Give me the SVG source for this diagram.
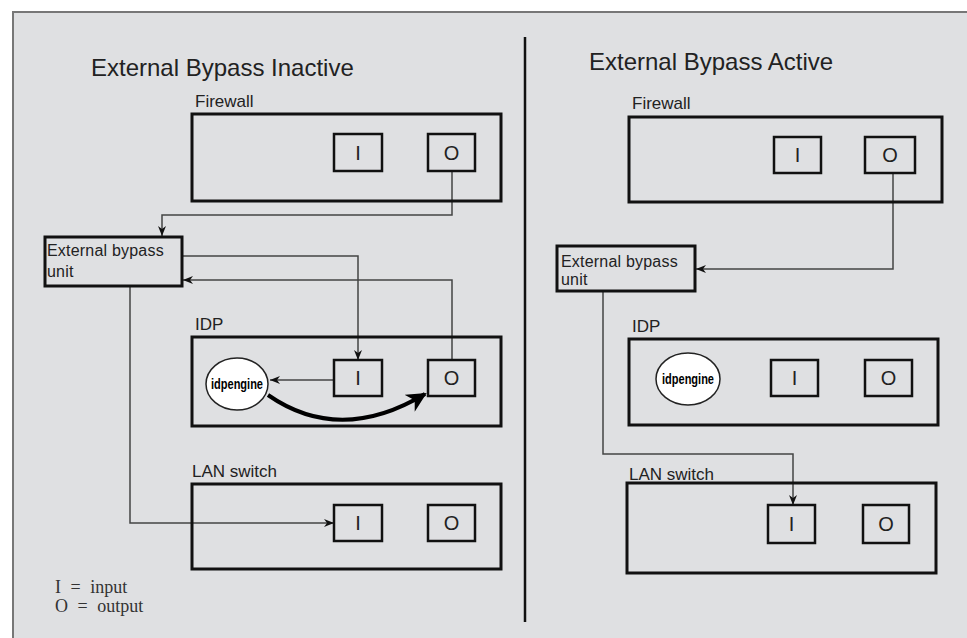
<svg xmlns="http://www.w3.org/2000/svg" width="967" height="638" viewBox="0 0 967 638">
<style>
.box{fill:none;stroke:#111;stroke-width:3}
.port{fill:none;stroke:#111;stroke-width:2.5}
.eng{fill:#fff;stroke:#222;stroke-width:1.5}
.wire{fill:none;stroke:#444;stroke-width:1.5}
.t{font-family:"Liberation Sans",Arial,sans-serif;fill:#222}
.title{font-size:24px}
.lbl{font-size:17px}
.pl{font-size:20px;text-anchor:middle}
.eb{font-size:16px;letter-spacing:0.2px}
.engt{font-family:"Liberation Sans",Arial,sans-serif;font-size:15px;font-weight:bold;fill:#000;text-anchor:middle}
.leg{font-family:"Liberation Serif","Times New Roman",serif;font-size:18px;fill:#333;word-spacing:5px}
</style>
<defs>
<marker id="ah" viewBox="0 0 10 10" refX="10" refY="5" markerWidth="10" markerHeight="10" markerUnits="userSpaceOnUse" orient="auto">
<path d="M0,1 L10,5 L0,9 L3,5 Z" fill="#111"/>
</marker>
<marker id="ahb" viewBox="0 0 10 10" refX="9" refY="5" markerWidth="5" markerHeight="5" orient="auto">
<path d="M0,0 L10,5 L0,10 L3,5 Z" fill="#000"/>
</marker>
</defs>
<rect x="0" y="0" width="967" height="638" fill="#fff"/>
<rect x="13" y="12" width="960" height="640" fill="#dfe0e2" stroke="#777" stroke-width="2"/>
<line x1="525" y1="37" x2="525" y2="622" stroke="#111" stroke-width="2.5"/>

<text class="t title" x="91" y="76">External Bypass Inactive</text>
<text class="t title" x="589" y="70">External Bypass Active</text>

<g id="connectors">
<polyline class="wire" points="452,171 452,215 162,215 162,236" marker-end="url(#ah)"/>
<polyline class="wire" points="182,256 358,256 358,360" marker-end="url(#ah)"/>
<polyline class="wire" points="452,360 452,280 183,280" marker-end="url(#ah)"/>
<polyline class="wire" points="130,286 130,523 334,523" marker-end="url(#ah)"/>
<line class="wire" x1="334" y1="380" x2="270" y2="380" marker-end="url(#ah)"/>
<path d="M268,395 Q340,445 425,394" fill="none" stroke="#000" stroke-width="4" marker-end="url(#ahb)"/>
<polyline class="wire" points="893,173 893,269 696,269" marker-end="url(#ah)"/>
<polyline class="wire" points="603,291 603,454 793,454 793,505" marker-end="url(#ah)"/>
</g>

<g id="fw-left">
<text class="t lbl" x="195" y="107">Firewall</text>
<rect class="box" x="192" y="114" width="309" height="87"/>
<rect class="port" x="334" y="134" width="48" height="37"/>
<text class="t pl" x="358" y="160">I</text>
<rect class="port" x="428" y="134" width="47" height="37"/>
<text class="t pl" x="451.5" y="160">O</text>
</g>
<g id="ebu-left">
<rect class="box" x="45" y="237" width="137" height="49"/>
<text class="t eb" x="47" y="256">External bypass</text>
<text class="t eb" x="47" y="277">unit</text>
</g>
<g id="idp-left">
<text class="t lbl" x="195" y="330">IDP</text>
<rect class="box" x="192" y="337" width="309" height="89"/>
<ellipse class="eng" cx="237" cy="384" rx="31" ry="26"/>
<text class="engt" x="237" y="389" textLength="52" lengthAdjust="spacingAndGlyphs">idpengine</text>
<rect class="port" x="334" y="360" width="48" height="36"/>
<text class="t pl" x="358" y="385">I</text>
<rect class="port" x="428" y="360" width="47" height="36"/>
<text class="t pl" x="451.5" y="385">O</text>
</g>
<g id="lan-left">
<text class="t lbl" x="192" y="477">LAN switch</text>
<rect class="box" x="192" y="484" width="309" height="85"/>
<rect class="port" x="334" y="505" width="48" height="36"/>
<text class="t pl" x="358" y="530">I</text>
<rect class="port" x="428" y="505" width="47" height="36"/>
<text class="t pl" x="451.5" y="530">O</text>
</g>
<g id="legend">
<text class="leg" x="55" y="593">I = input</text>
<text class="leg" x="55" y="612">O = output</text>
</g>

<g id="fw-right">
<text class="t lbl" x="632" y="109">Firewall</text>
<rect class="box" x="629" y="117" width="313" height="85"/>
<rect class="port" x="774" y="137" width="47" height="36"/>
<text class="t pl" x="797.5" y="162">I</text>
<rect class="port" x="865" y="137" width="50" height="36"/>
<text class="t pl" x="890" y="162">O</text>
</g>
<g id="ebu-right">
<rect class="box" x="557" y="246" width="138" height="45"/>
<text class="t eb" x="561" y="267">External bypass</text>
<text class="t eb" x="561" y="285">unit</text>
</g>
<g id="idp-right">
<text class="t lbl" x="632" y="332">IDP</text>
<rect class="box" x="629" y="339" width="309" height="86"/>
<ellipse class="eng" cx="688" cy="379" rx="32" ry="26"/>
<text class="engt" x="688" y="384" textLength="52" lengthAdjust="spacingAndGlyphs">idpengine</text>
<rect class="port" x="771" y="360" width="47" height="36"/>
<text class="t pl" x="794.5" y="385">I</text>
<rect class="port" x="865" y="360" width="47" height="36"/>
<text class="t pl" x="888.5" y="385">O</text>
</g>
<g id="lan-right">
<text class="t lbl" x="629" y="480">LAN switch</text>
<rect class="box" x="627" y="483" width="309" height="90"/>
<rect class="port" x="768" y="505" width="47" height="38"/>
<text class="t pl" x="791.5" y="531">I</text>
<rect class="port" x="863" y="505" width="46" height="38"/>
<text class="t pl" x="886" y="531">O</text>
</g>
</svg>
